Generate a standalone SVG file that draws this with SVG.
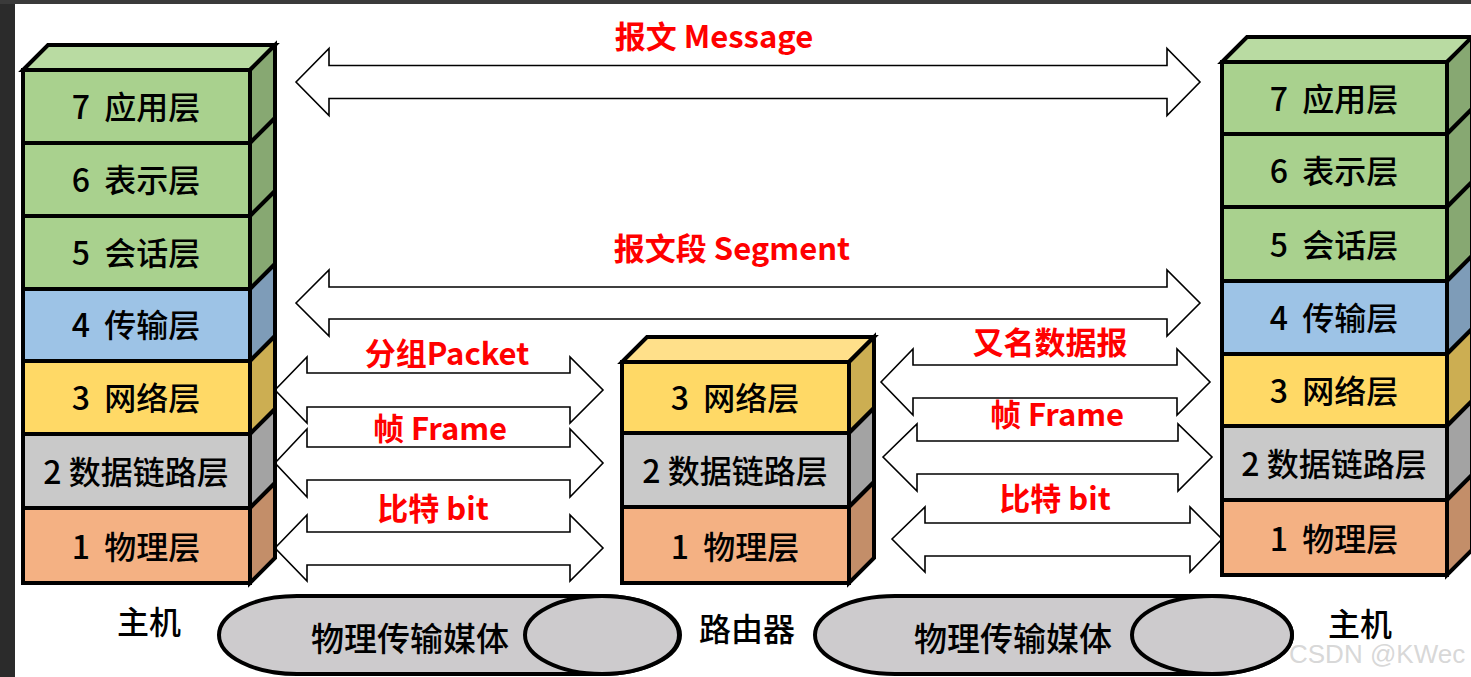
<svg xmlns="http://www.w3.org/2000/svg" width="1471" height="677" viewBox="0 0 1471 677">
<style>
.bx{stroke:#000;stroke-width:4;stroke-linejoin:miter}
.g{fill:#A9D18E}.gs{fill:#87A872}.gt{fill:#B9DBA2}
.b{fill:#9DC3E6}.bs{fill:#7E9CB8}
.y{fill:#FFD966}.ys{fill:#CCAE52}.yt{fill:#FFE08A}
.k{fill:#C9C9C9}.ks{fill:#A3A3A3}
.o{fill:#F4B183}.os{fill:#C38E69}
.lt{font-family:"Noto Sans CJK SC","Noto Sans",sans-serif;font-size:32px;font-weight:500;fill:#000;text-anchor:middle}
.md{font-size:33px}
.rl{font-family:"Noto Sans CJK SC","Noto Sans",sans-serif;font-size:31px;font-weight:bold;fill:#FF0000;text-anchor:middle}
.ar{fill:#fff;stroke:#000;stroke-width:1.6;stroke-linejoin:miter}
.med{fill:#CDCBCD;stroke:#000;stroke-width:4}
</style>
<rect x="0" y="0" width="1471" height="677" fill="#fff"/>
<rect x="0" y="0" width="15" height="677" fill="#2B2B2B"/>
<rect x="0" y="0" width="1471" height="4" fill="#3A3A3A"/>

<g id="connectors">
<path class="ar" d="M296,82 L329,48.5 L329,65.5 L1167,65.5 L1167,48.5 L1200,82 L1167,115.5 L1167,98.5 L329,98.5 L329,115.5 Z"/>
<path class="ar" d="M296,303 L329,270 L329,287 L1167,287 L1167,270 L1200,303 L1167,336 L1167,319 L329,319 L329,336 Z"/>
<path class="ar" d="M275,390 L307,357 L307,373 L570,373 L570,357 L603,390 L570,423 L570,407 L307,407 L307,423 Z"/>
<path class="ar" d="M275,463 L307,429 L307,447 L570,447 L570,429 L603,463 L570,497 L570,480 L307,480 L307,497 Z"/>
<path class="ar" d="M275,548 L307,515 L307,532 L570,532 L570,515 L603,548 L570,581 L570,565 L307,565 L307,581 Z"/>
<path class="ar" d="M881,382 L913,349 L913,365 L1177,365 L1177,349 L1210,382 L1177,415 L1177,398 L913,398 L913,415 Z"/>
<path class="ar" d="M883,457 L917,424 L917,441 L1178,441 L1178,424 L1212,457 L1178,491 L1178,474 L917,474 L917,491 Z"/>
<path class="ar" d="M892,539 L925,507 L925,523 L1190,523 L1190,507 L1222,539 L1190,572 L1190,556 L925,556 L925,572 Z"/>
<text class="rl" x="714" y="48">报文 Message</text>
<text class="rl" x="732" y="260">报文段 Segment</text>
<text class="rl" x="447" y="365">分组Packet</text>
<text class="rl" x="440" y="440">帧 Frame</text>
<text class="rl" x="433" y="520">比特 bit</text>
<text class="rl" x="1050" y="354">又名数据报</text>
<text class="rl" x="1057" y="426">帧 Frame</text>
<text class="rl" x="1055" y="510">比特 bit</text>
</g>

<g id="host-left">
<polygon class="bx gt" points="23,70 48,45 275,45 250,70"/>
<polygon class="bx gs" points="250,70 275,45 275,118 250,143"/>
<polygon class="bx gs" points="250,143 275,118 275,191 250,216"/>
<polygon class="bx gs" points="250,216 275,191 275,264 250,289"/>
<polygon class="bx bs" points="250,289 275,264 275,336 250,361"/>
<polygon class="bx ys" points="250,361 275,336 275,409 250,434"/>
<polygon class="bx ks" points="250,434 275,409 275,483 250,508"/>
<polygon class="bx os" points="250,508 275,483 275,558 250,583"/>
<rect class="bx g" x="23" y="70" width="227" height="73"/>
<rect class="bx g" x="23" y="143" width="227" height="73"/>
<rect class="bx g" x="23" y="216" width="227" height="73"/>
<rect class="bx b" x="23" y="289" width="227" height="72"/>
<rect class="bx y" x="23" y="361" width="227" height="73"/>
<rect class="bx k" x="23" y="434" width="227" height="74"/>
<rect class="bx o" x="23" y="508" width="227" height="75"/>
<text class="lt" x="136" y="119" xml:space="preserve">7  应用层</text>
<text class="lt" x="136" y="192" xml:space="preserve">6  表示层</text>
<text class="lt" x="136" y="265" xml:space="preserve">5  会话层</text>
<text class="lt" x="136" y="337" xml:space="preserve">4  传输层</text>
<text class="lt" x="136" y="410" xml:space="preserve">3  网络层</text>
<text class="lt" x="136" y="484" xml:space="preserve">2 数据链路层</text>
<text class="lt" x="136" y="559" xml:space="preserve">1  物理层</text>
<text class="lt" x="149" y="634">主机</text>
</g>

<g id="router">
<polygon class="bx yt" points="622,362 647,337 874,337 849,362"/>
<polygon class="bx ys" points="849,362 874,337 874,408 849,433"/>
<polygon class="bx ks" points="849,433 874,408 874,482 849,507"/>
<polygon class="bx os" points="849,507 874,482 874,558 849,583"/>
<rect class="bx y" x="622" y="362" width="227" height="71"/>
<rect class="bx k" x="622" y="433" width="227" height="74"/>
<rect class="bx o" x="622" y="507" width="227" height="76"/>
<text class="lt" x="735" y="410" xml:space="preserve">3  网络层</text>
<text class="lt" x="735" y="483" xml:space="preserve">2 数据链路层</text>
<text class="lt" x="735" y="559" xml:space="preserve">1  物理层</text>
<text class="lt" x="747" y="641">路由器</text>
</g>

<g id="host-right">
<polygon class="bx gt" points="1222,62 1247,37 1474,37 1447,62"/>
<polygon class="bx gs" points="1447,62 1472,37 1472,109 1447,134"/>
<polygon class="bx gs" points="1447,134 1472,109 1472,182 1447,207"/>
<polygon class="bx gs" points="1447,207 1472,182 1472,256 1447,281"/>
<polygon class="bx bs" points="1447,281 1472,256 1472,329 1447,354"/>
<polygon class="bx ys" points="1447,354 1472,329 1472,401 1447,426"/>
<polygon class="bx ks" points="1447,426 1472,401 1472,475 1447,500"/>
<polygon class="bx os" points="1447,500 1472,475 1472,550 1447,575"/>
<rect class="bx g" x="1222" y="62" width="225" height="72"/>
<rect class="bx g" x="1222" y="134" width="225" height="73"/>
<rect class="bx g" x="1222" y="207" width="225" height="74"/>
<rect class="bx b" x="1222" y="281" width="225" height="73"/>
<rect class="bx y" x="1222" y="354" width="225" height="72"/>
<rect class="bx k" x="1222" y="426" width="225" height="74"/>
<rect class="bx o" x="1222" y="500" width="225" height="75"/>
<text class="lt" x="1334" y="111" xml:space="preserve">7  应用层</text>
<text class="lt" x="1334" y="183" xml:space="preserve">6  表示层</text>
<text class="lt" x="1334" y="257" xml:space="preserve">5  会话层</text>
<text class="lt" x="1334" y="330" xml:space="preserve">4  传输层</text>
<text class="lt" x="1334" y="403" xml:space="preserve">3  网络层</text>
<text class="lt" x="1334" y="476" xml:space="preserve">2 数据链路层</text>
<text class="lt" x="1334" y="551" xml:space="preserve">1  物理层</text>
<text class="lt" x="1360" y="636">主机</text>
</g>

<g id="medium-left">
<path class="med" d="M297,596 L602,596 A78,39 0 0 1 602,674 L297,674 A78,39 0 0 1 297,596 Z"/>
<ellipse class="med" cx="602" cy="635" rx="77" ry="39"/>
<text class="lt md" x="410" y="651">物理传输媒体</text>
</g>

<g id="medium-right">
<path class="med" d="M895,596 L1212,596 A80,39 0 0 1 1212,674 L895,674 A80,39 0 0 1 895,596 Z"/>
<ellipse class="med" cx="1212" cy="635" rx="80" ry="39"/>
<text class="lt md" x="1013" y="651">物理传输媒体</text>
</g>

<text x="1289" y="663" font-family="Liberation Sans, Arial, sans-serif" font-size="26" fill="#D3D3D3" fill-opacity="0.9">CSDN @KWec</text>
</svg>
